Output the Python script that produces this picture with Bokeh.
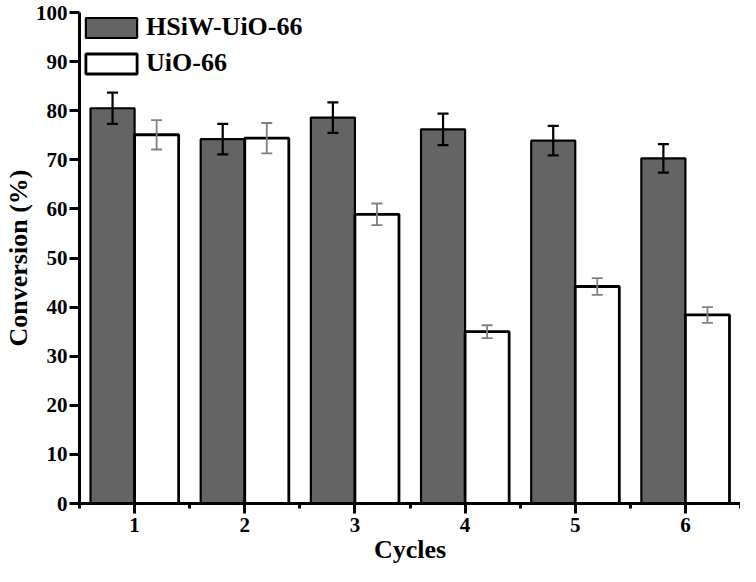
from bokeh.plotting import figure
from bokeh.models import ColumnDataSource, Whisker, TeeHead, FixedTicker, Range1d, Legend, LegendItem
from bokeh.transform import dodge
from bokeh.embed import file_html
from bokeh.resources import INLINE

cycles = [1, 2, 3, 4, 5, 6]
hsiw = [80.5, 74.2, 78.6, 76.2, 73.9, 70.3]
hsiw_err = [3.2, 3.1, 3.1, 3.2, 3.0, 2.9]
uio = [75.1, 74.4, 58.9, 35.0, 44.2, 38.4]
uio_err = [3.0, 3.1, 2.2, 1.3, 1.7, 1.6]
y_ticks = [0, 10, 20, 30, 40, 50, 60, 70, 80, 90, 100]
series_names = ["HSiW-UiO-66", "UiO-66"]

src = ColumnDataSource(dict(
    cycle=cycles,
    hsiw=hsiw,
    hsiw_lo=[v - e for v, e in zip(hsiw, hsiw_err)],
    hsiw_hi=[v + e for v, e in zip(hsiw, hsiw_err)],
    uio=uio,
    uio_lo=[v - e for v, e in zip(uio, uio_err)],
    uio_hi=[v + e for v, e in zip(uio, uio_err)],
))

FONT = "Liberation Serif"

p = figure(width=740, height=566, output_backend="svg", toolbar_location=None,
           x_range=Range1d(0.5, 6.5), y_range=Range1d(0, 100),
           min_border_top=12, min_border_right=0, min_border_left=0, min_border_bottom=0)
p.outline_line_color = None
p.grid.visible = False
p.background_fill_color = "white"

r1 = p.vbar(x=dodge("cycle", -0.2, range=p.x_range), top="hsiw", bottom=0, width=0.4, source=src,
            fill_color="#646464", line_color="black", line_width=2.2)
r2 = p.vbar(x=dodge("cycle", 0.2, range=p.x_range), top="uio", bottom=0, width=0.4, source=src,
            fill_color="white", line_color="black", line_width=2.8)

w1 = Whisker(base=dodge("cycle", -0.2, range=p.x_range), lower="hsiw_lo", upper="hsiw_hi", source=src,
             line_color="black", line_width=2.2, level="overlay",
             upper_head=TeeHead(size=11, line_color="black", line_width=2.2),
             lower_head=TeeHead(size=11, line_color="black", line_width=2.2))
w2 = Whisker(base=dodge("cycle", 0.2, range=p.x_range), lower="uio_lo", upper="uio_hi", source=src,
             line_color="#808080", line_width=1.8, level="overlay",
             upper_head=TeeHead(size=11, line_color="#808080", line_width=1.8),
             lower_head=TeeHead(size=11, line_color="#808080", line_width=1.8))
p.add_layout(w1)
p.add_layout(w2)

# axes
p.xaxis.ticker = FixedTicker(ticks=cycles, minor_ticks=[c - 0.5 for c in cycles] + [6.5])
p.yaxis.ticker = FixedTicker(ticks=y_ticks, minor_ticks=[])
for ax in (p.xaxis[0], p.yaxis[0]):
    ax.axis_line_width = 3
    ax.axis_line_color = "black"
    ax.major_tick_line_width = 3
    ax.major_tick_line_color = "black"
    ax.minor_tick_line_width = 3
    ax.minor_tick_line_color = "black"
    ax.major_tick_out = 10
    ax.major_tick_in = 0
    ax.minor_tick_out = 5
    ax.minor_tick_in = 0
    ax.major_label_text_font = FONT
    ax.major_label_text_font_style = "bold"
    ax.major_label_text_font_size = "21px"
    ax.major_label_text_color = "black"
    ax.axis_label_text_font = FONT
    ax.axis_label_text_font_style = "bold"
    ax.axis_label_text_font_size = "26px"
    ax.axis_label_text_color = "black"

p.xaxis.axis_label = "Cycles"
p.yaxis.axis_label = "Conversion (%)"
p.xaxis.major_label_standoff = 4
p.xaxis.axis_label_standoff = 0
p.yaxis.major_label_standoff = 2
p.yaxis.axis_label_standoff = 0

legend = Legend(items=[LegendItem(label=series_names[0], renderers=[r1]),
                       LegendItem(label=series_names[1], renderers=[r2])],
                location="top_left")
legend.label_text_font = FONT
legend.label_text_font_style = "bold"
legend.label_text_font_size = "26px"
legend.label_text_color = "black"
legend.glyph_width = 64
legend.glyph_height = 25
legend.label_standoff = 3
legend.spacing = 6
legend.margin = 0
legend.padding = 8
legend.border_line_color = None
legend.background_fill_alpha = 0
p.add_layout(legend)

open("out.html", "w").write(file_html(p, INLINE))
